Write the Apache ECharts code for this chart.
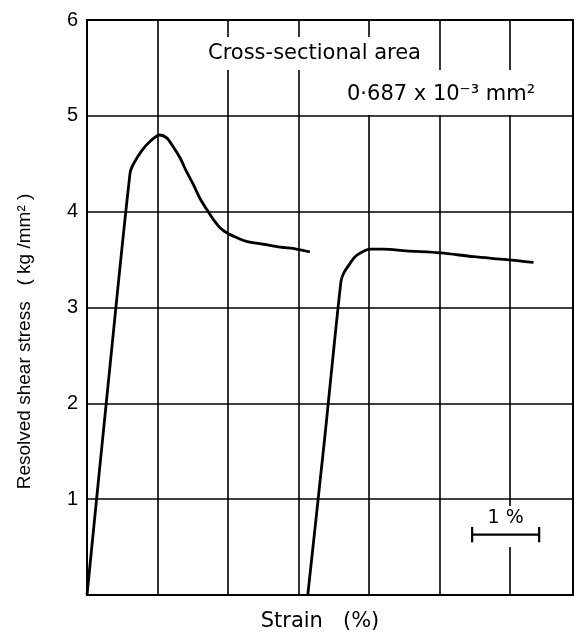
<!DOCTYPE html>
<html>
<head>
<meta charset="utf-8">
<script src="https://cdn.jsdelivr.net/npm/echarts@6/dist/echarts.min.js"></script>
<style>
  html, body { margin: 0; padding: 0; background: #fff; }
  #main { width: 579px; height: 635px; }
</style>
</head>
<body>
<div id="main"></div>
<script>
  // first loading: strain (%) / stress (kg/mm2)
  var strain1 = [0, 0.30, 0.61, 0.66, 0.78, 0.89, 1.03, 1.13, 1.22, 1.32, 1.41, 1.51, 1.60, 1.70, 1.79, 1.89, 1.98, 2.12, 2.26, 2.50, 2.74, 2.97, 3.16];
  var stress1 = [0, 2.20, 4.40, 4.50, 4.64, 4.73, 4.80, 4.77, 4.68, 4.56, 4.42, 4.28, 4.14, 4.02, 3.92, 3.83, 3.78, 3.73, 3.69, 3.66, 3.63, 3.61, 3.58];

  // second loading
  var strain2 = [3.13, 3.37, 3.60, 3.64, 3.71, 3.80, 3.90, 4.01, 4.20, 4.53, 5.01, 5.48, 5.95, 6.33];
  var stress2 = [0, 1.64, 3.27, 3.36, 3.44, 3.53, 3.58, 3.61, 3.61, 3.59, 3.57, 3.53, 3.50, 3.47];

  // the hand drawn grid is a touch short of 7 divisions
  var strainMax = 6.89;
  var yTicks = [0, 1, 2, 3, 4, 5, 6];

  // 1 % scale bar
  var scaleBarX = [5.46, 6.41];
  var scaleBarY = 0.63;
  var scaleBarTick = 0.08;
  var scaleBarLabel = '1 %';

  function pairs(xs, ys) {
    return xs.map(function(x, i) { return [x, ys[i]]; });
  }

  var barMid = (scaleBarX[0] + scaleBarX[1]) / 2;
  var barLines = [
    [[scaleBarX[0], scaleBarY], [scaleBarX[1], scaleBarY]],
    [[scaleBarX[0], scaleBarY + scaleBarTick], [scaleBarX[0], scaleBarY - scaleBarTick]],
    [[scaleBarX[1], scaleBarY + scaleBarTick], [scaleBarX[1], scaleBarY - scaleBarTick]]
  ];

  var chart = echarts.init(document.getElementById('main'));

  var series = [
    {
      type: 'line',
      data: pairs(strain1, stress1),
      smooth: 0.3,
      symbol: 'none',
      lineStyle: { color: '#000', width: 2.8 },
      z: 4
    },
    {
      type: 'line',
      data: pairs(strain2, stress2),
      smooth: 0.3,
      symbol: 'none',
      lineStyle: { color: '#000', width: 2.8 },
      z: 4
    },
    {
      // white patch behind the scale label, cuts the grid line like the original
      type: 'scatter',
      data: [[barMid, 0.5]],
      symbolSize: 0,
      itemStyle: { opacity: 1 },
      z: 3,
      silent: true,
      label: {
        show: true,
        position: 'top',
        distance: 0,
        formatter: scaleBarLabel,
        color: '#000',
        fontFamily: 'DejaVu Sans',
        fontSize: 19,
        backgroundColor: '#fff',
        padding: [2, 8, 20, 8]
      }
    }
  ];

  barLines.forEach(function(seg) {
    series.push({
      type: 'line',
      data: seg,
      symbol: 'none',
      silent: true,
      lineStyle: { color: '#000', width: 2.2 },
      z: 5
    });
  });

  chart.setOption({
    animation: false,
    backgroundColor: '#fff',
    grid: {
      left: 87, right: 6, top: 20, bottom: 40,
      outerBoundsMode: 'none',
      show: true, borderColor: '#000', borderWidth: 2
    },
    xAxis: {
      type: 'value',
      min: 0,
      max: strainMax,
      interval: 1,
      name: 'Strain   (%)',
      nameLocation: 'middle',
      nameGap: 16,
      nameTextStyle: {
        color: '#000',
        fontSize: 21,
        fontFamily: 'DejaVu Sans',
        padding: [0, 20, 0, 0]
      },
      axisLine: { show: true, onZero: false, lineStyle: { color: '#000', width: 2 } },
      axisTick: { show: false },
      axisLabel: { show: false },
      splitLine: { show: true, lineStyle: { color: '#000', width: 1.6 } }
    },
    yAxis: {
      type: 'value',
      min: yTicks[0],
      max: yTicks[yTicks.length - 1],
      interval: 1,
      name: 'Resolved shear stress   ( kg /mm\u00b2 )',
      nameLocation: 'middle',
      nameGap: 53,
      nameTextStyle: {
        color: '#000',
        fontSize: 19,
        fontFamily: 'Liberation Sans',
        padding: [0, 68, 0, 0]
      },
      axisLine: { show: true, lineStyle: { color: '#000', width: 2 } },
      axisTick: { show: false },
      axisLabel: {
        color: '#000',
        fontSize: 20,
        fontFamily: 'Liberation Sans',
        margin: 9,
        formatter: function(v) { return v === 0 ? '' : String(v); }
      },
      splitLine: { show: true, lineStyle: { color: '#000', width: 1.6 } }
    },
    graphic: [
      {
        type: 'text',
        left: 204,
        top: 37,
        z: 8,
        style: {
          text: 'Cross-sectional area',
          font: '21px "DejaVu Sans"',
          fill: '#000',
          backgroundColor: '#fff',
          padding: [6, 4, 6, 4]
        }
      },
      {
        type: 'text',
        left: 343,
        top: 70,
        z: 8,
        style: {
          text: '0\u00b7687 x 10\u207b\u00b3 mm\u00b2',
          font: '21px "DejaVu Sans"',
          fill: '#000',
          backgroundColor: '#fff',
          padding: [14, 4, 10, 4]
        }
      }
    ],
    series: series
  });
</script>
</body>
</html>
